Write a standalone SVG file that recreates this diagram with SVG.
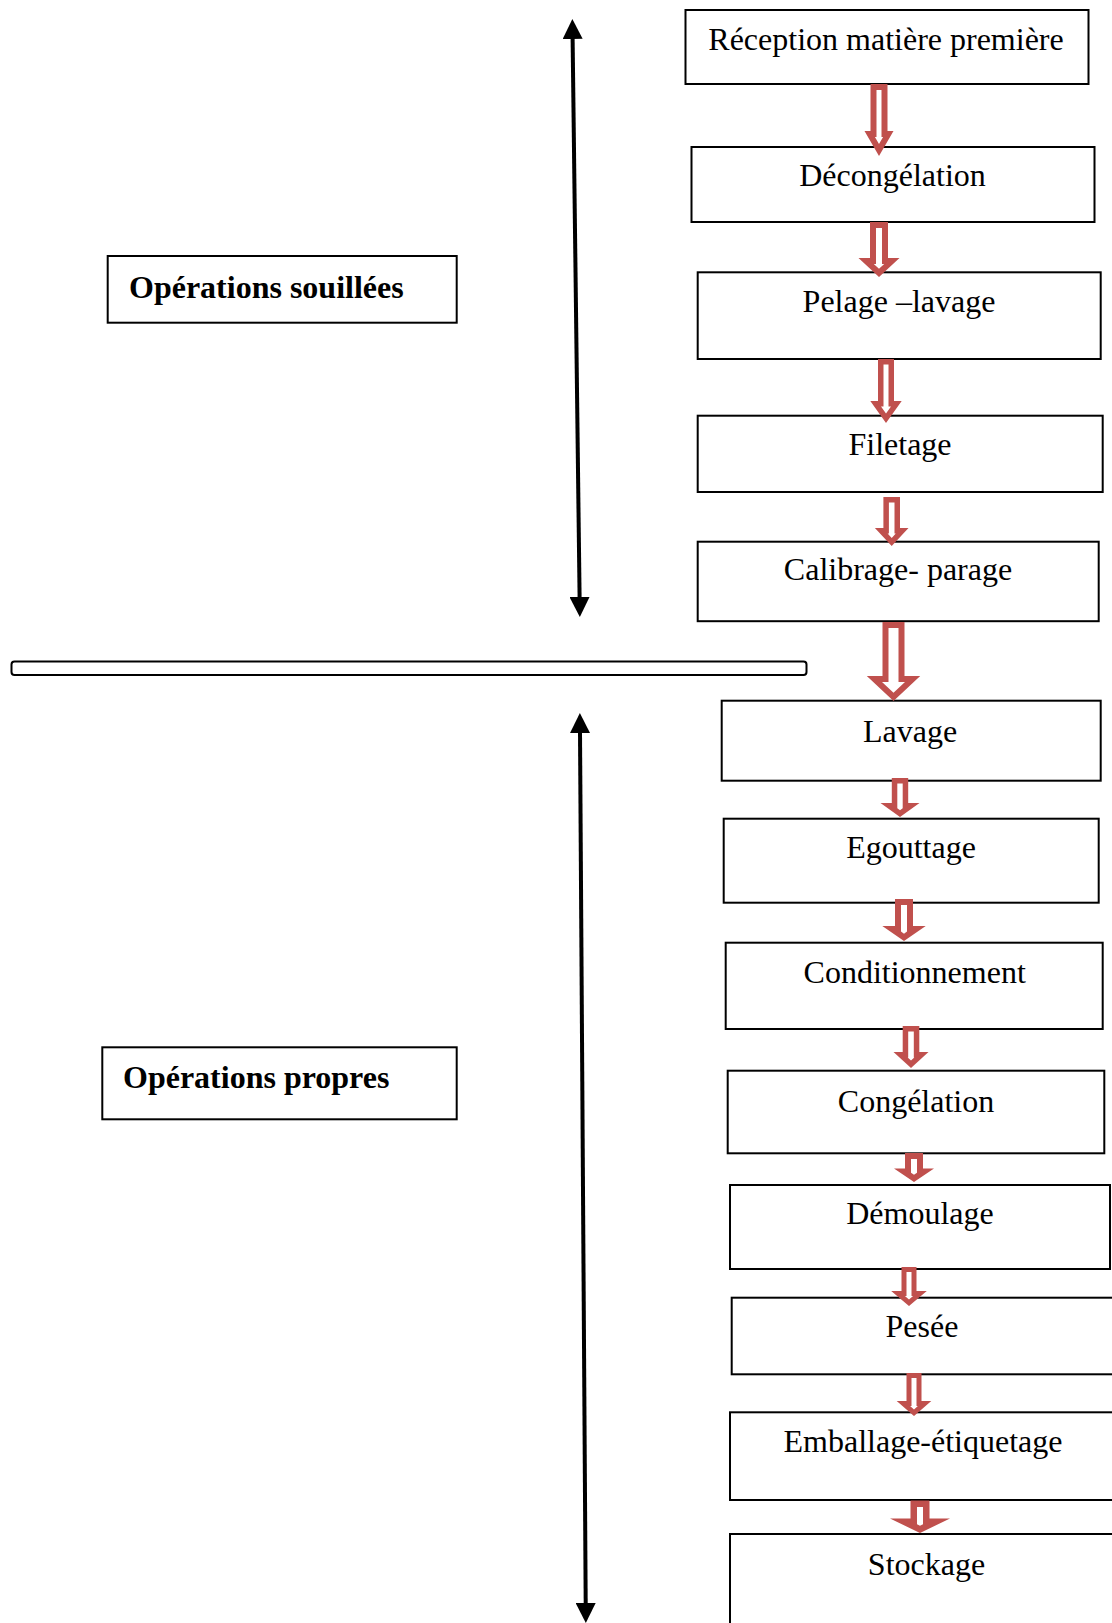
<svg xmlns="http://www.w3.org/2000/svg" width="1112" height="1623" viewBox="0 0 1112 1623">
  <style>
    .box { fill: #ffffff; stroke: #000000; stroke-width: 2; }
    .step { font-family: "Liberation Serif", "Times New Roman", serif; font-size: 32px; fill: #000000; text-anchor: middle; }
    .zone { font-family: "Liberation Serif", "Times New Roman", serif; font-size: 32px; font-weight: bold; fill: #000000; }
    .arr-out { fill: #C0504D; }
    .arr-in { fill: #ffffff; }
    .range { stroke: #000000; stroke-width: 4; fill: none; }
  </style>
  <defs>
    <marker id="head" viewBox="0 0 20 20" refX="1" refY="10" markerWidth="20" markerHeight="20" markerUnits="userSpaceOnUse" orient="auto-start-reverse">
      <path d="M0,0 L20,10 L0,20 Z" fill="#000000"/>
    </marker>
  </defs>

  <rect width="1112" height="1623" fill="#ffffff"/>

  <!-- zone labels -->
  <g id="zone-souillees">
    <rect class="box" x="107.7" y="256" width="349" height="66.7"/>
    <text class="zone" x="129" y="298">Opérations souillées</text>
  </g>
  <g id="zone-propres">
    <rect class="box" x="102.3" y="1047.3" width="354.4" height="72"/>
    <text class="zone" x="123" y="1088">Opérations propres</text>
  </g>

  <!-- separator between soiled and clean areas -->
  <g id="separator">
    <rect class="box" x="11.5" y="661.6" width="795" height="13.4" rx="3" ry="3"/>
  </g>

  <!-- process steps -->
  <g id="reception">
    <rect class="box" x="685.5" y="10" width="403" height="74"/>
    <text class="step" x="886" y="50">Réception matière première</text>
  </g>
  <g id="decongelation">
    <rect class="box" x="691.5" y="147" width="403" height="75"/>
    <text class="step" x="892.5" y="186">Décongélation</text>
  </g>
  <g id="pelage-lavage">
    <rect class="box" x="697.7" y="272.3" width="403" height="86.7"/>
    <text class="step" x="899" y="312">Pelage –lavage</text>
  </g>
  <g id="filetage">
    <rect class="box" x="697.7" y="415.7" width="405" height="76.3"/>
    <text class="step" x="900" y="455">Filetage</text>
  </g>
  <g id="calibrage-parage">
    <rect class="box" x="697.7" y="541.7" width="401" height="79.5"/>
    <text class="step" x="898" y="580">Calibrage- parage</text>
  </g>
  <g id="lavage">
    <rect class="box" x="721.7" y="700.7" width="379" height="80"/>
    <text class="step" x="910" y="741.5">Lavage</text>
  </g>
  <g id="egouttage">
    <rect class="box" x="723.7" y="818.7" width="375" height="84"/>
    <text class="step" x="911" y="858">Egouttage</text>
  </g>
  <g id="conditionnement">
    <rect class="box" x="725.7" y="942.7" width="377" height="86.3"/>
    <text class="step" x="914.7" y="982.7">Conditionnement</text>
  </g>
  <g id="congelation">
    <rect class="box" x="727.7" y="1070.7" width="376.6" height="82.6"/>
    <text class="step" x="916" y="1111.5">Congélation</text>
  </g>
  <g id="demoulage">
    <rect class="box" x="730" y="1185" width="380" height="84"/>
    <text class="step" x="920" y="1224">Démoulage</text>
  </g>
  <g id="pesee">
    <rect class="box" x="731.7" y="1297.7" width="392" height="76.6"/>
    <text class="step" x="922" y="1337">Pesée</text>
  </g>
  <g id="emballage-etiquetage">
    <rect class="box" x="730" y="1412.3" width="394" height="87.7"/>
    <text class="step" x="923" y="1451.7">Emballage-étiquetage</text>
  </g>
  <g id="stockage">
    <rect class="box" x="730" y="1534" width="394" height="100"/>
    <text class="step" x="926.5" y="1575">Stockage</text>
  </g>

  <!-- hollow block arrows between steps: red outline shape with white inset -->
  <g id="connectors">
    <g>
      <polygon class="arr-out" points="870.5,84 887.5,84 887.5,131 893.5,131 879,156 864.5,131 870.5,131"/>
      <polygon class="arr-in" points="876.5,90 881.5,90 881.5,137 883.1,137 879,144 874.9,137 876.5,137"/>
    </g>
    <g>
      <polygon class="arr-out" points="870,222 888,222 888,258 899.5,258 879,277 858.5,258 870,258"/>
      <polygon class="arr-in" points="876,228 882,228 882,264 884.2,264 879,268.8 873.8,264 876,264"/>
    </g>
    <g>
      <polygon class="arr-out" points="878,359 894,359 894,401 901.7,401 886,423 870.3,401 878,401"/>
      <polygon class="arr-in" points="883.5,364.5 888.5,364.5 888.5,406.5 891,406.5 886,413.5 881,406.5 883.5,406.5"/>
    </g>
    <g>
      <polygon class="arr-out" points="883.4,497 900,497 900,528 908.5,528 891.7,546 874.9,528 883.4,528"/>
      <polygon class="arr-in" points="888.9,502.5 894.5,502.5 894.5,533.5 895.8,533.5 891.7,537.9 887.6,533.5 888.9,533.5"/>
    </g>
    <g>
      <polygon class="arr-out" points="882.5,622 904.5,622 904.5,676 920.2,676 893.5,701 866.8,676 882.5,676"/>
      <polygon class="arr-in" points="888.5,628 898.5,628 898.5,682 905,682 893.5,692.8 882,682 888.5,682"/>
    </g>
    <g>
      <polygon class="arr-out" points="891.8,778 908.2,778 908.2,803 919.5,803 900,817 880.5,803 891.8,803"/>
      <polygon class="arr-in" points="897.3,783.5 902.7,783.5 902.7,808.3 900,810.2 897.3,808.3"/>
    </g>
    <g>
      <polygon class="arr-out" points="895,899 913,899 913,926 925.7,926 904,941 882.3,926 895,926"/>
      <polygon class="arr-in" points="901,905 907,905 907,931.6 904,933.7 901,931.6"/>
    </g>
    <g>
      <polygon class="arr-out" points="902.7,1026 919.3,1026 919.3,1052 928.5,1052 911,1068 893.5,1052 902.7,1052"/>
      <polygon class="arr-in" points="908.2,1031.5 913.8,1031.5 913.8,1057.5 914.3,1057.5 911,1060.5 907.7,1057.5 908.2,1057.5"/>
    </g>
    <g>
      <polygon class="arr-out" points="905,1153 923,1153 923,1168.5 934,1168.5 914,1182 894,1168.5 905,1168.5"/>
      <polygon class="arr-in" points="911,1159 917,1159 917,1172.7 914,1174.8 911,1172.7"/>
    </g>
    <g>
      <polygon class="arr-out" points="901.5,1267 916.5,1267 916.5,1291 926.8,1291 909,1306 891.2,1291 901.5,1291"/>
      <polygon class="arr-in" points="906.5,1272 911.5,1272 911.5,1296 913.1,1296 909,1299.5 904.9,1296 906.5,1296"/>
    </g>
    <g>
      <polygon class="arr-out" points="906.5,1373 921.5,1373 921.5,1401 931.3,1401 914,1416 896.7,1401 906.5,1401"/>
      <polygon class="arr-in" points="911.5,1378 916.5,1378 916.5,1406 917.9,1406 914,1409.4 910.1,1406 911.5,1406"/>
    </g>
    <g>
      <polygon class="arr-out" points="910.5,1500.5 929.5,1500.5 929.5,1518.5 950,1518.5 920,1533 890,1518.5 910.5,1518.5"/>
      <polygon class="arr-in" points="917,1507 923,1507 923,1524.3 920,1525.8 917,1524.3"/>
    </g>
  </g>

  <!-- double-headed range arrows -->
  <g id="ranges">
    <line class="range" x1="572.6" y1="38" x2="579.6" y2="598" marker-start="url(#head)" marker-end="url(#head)"/>
    <line class="range" x1="580" y1="732" x2="585.7" y2="1604" marker-start="url(#head)" marker-end="url(#head)"/>
  </g>
</svg>
